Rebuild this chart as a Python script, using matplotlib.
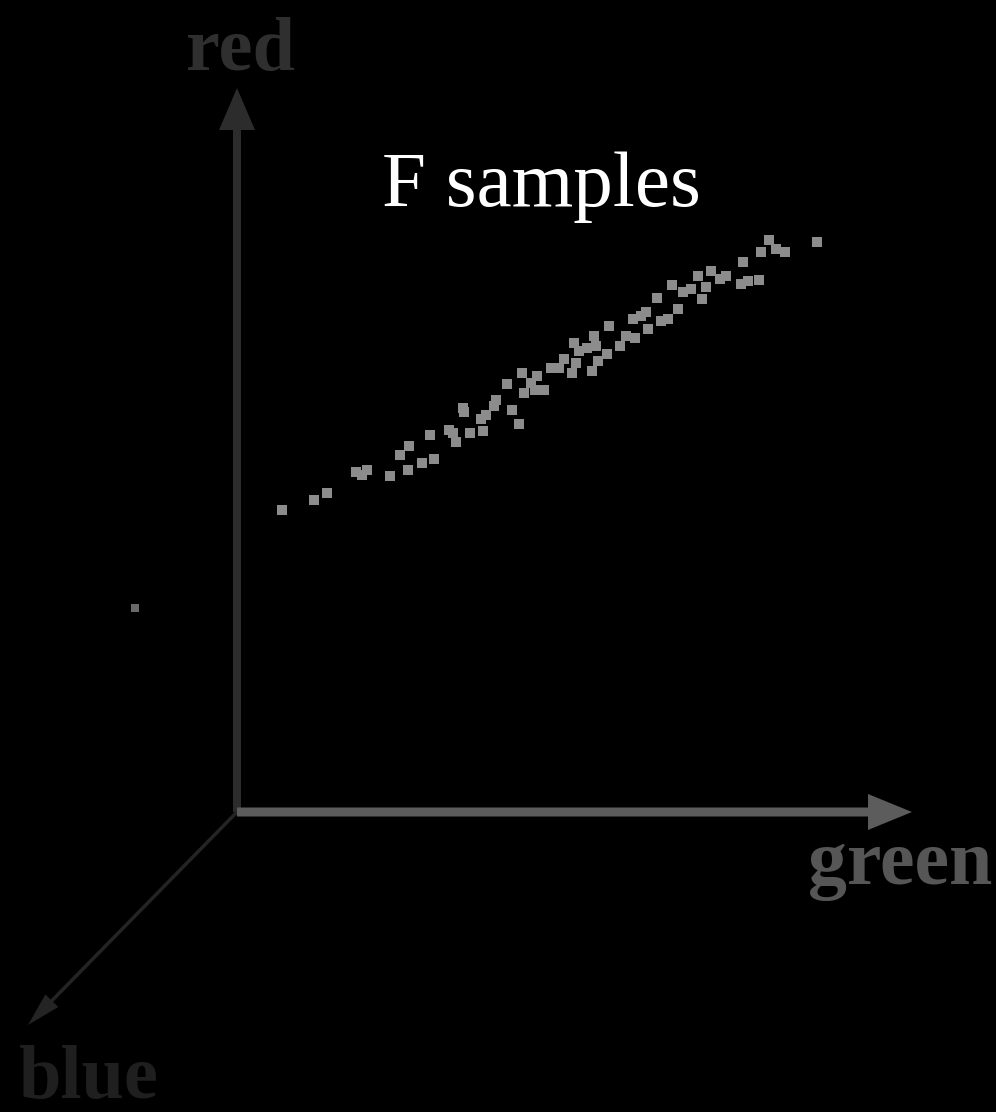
import numpy as np
import matplotlib
matplotlib.use("Agg")
import matplotlib.pyplot as plt

# sample positions (image pixel coords)
green_vals = [282, 313.6, 326.6, 355.5, 367.4, 361.9, 389.7, 400.1, 409, 408.3,
              422, 434.3, 429.5, 449.2, 452.9, 455.9, 470.3, 482.6, 464, 463.3,
              480.7, 486.3, 493.8, 496.3, 511.6, 518.6, 506.8, 521.6, 523.5, 534.6,
              536.5, 543.9, 530.9, 551.3, 558.8, 564.3, 571.8, 573.6, 579.2, 575.5,
              586.6, 594.1, 595.9, 592.2, 597.8, 607.1, 608.9, 620.1, 625.6, 633.1,
              634.9, 640.5, 646.1, 648, 657.2, 661, 668.4, 677.6, 672, 683.2,
              690.6, 698, 701.8, 705.5, 711.1, 720.4, 726, 740.8, 742.7, 748.2,
              759.4, 761.2, 768.6, 776.1, 785.3, 817]
red_vals = [510, 500, 493, 471.5, 469.9, 474.9, 475.5, 455.1, 445.7, 469.9,
            462.5, 458.8, 434.7, 430.3, 433, 442.4, 433, 430.7, 412.2, 408.2,
            418.6, 414.6, 406.2, 399.5, 409.5, 423.6, 384.4, 373.4, 392.8, 389.5,
            376, 390.1, 382.8, 368.3, 367.7, 359.3, 372.7, 342.6, 350.9, 362.6,
            347.6, 335.9, 345.9, 371, 361, 354.3, 325.8, 345.9, 335.9, 319.1,
            337.5, 315.8, 312.4, 329.2, 298, 320.8, 319.1, 309.1, 284.9, 292.3,
            288.9, 275.6, 299, 287.3, 270.5, 278.9, 275.6, 283.9, 262.2, 280.6,
            279.6, 252.1, 240.4, 248.8, 252.1, 242]
outlier_x = [135]
outlier_y = [608]

origin = (237, 812)
red_end = (237, 88)
green_end = (912, 812)
blue_end = (28, 1025)

fig = plt.figure(figsize=(9.96, 11.12), dpi=100, facecolor='black')
ax = fig.add_axes([0, 0, 1, 1])
ax.set_facecolor('black')
ax.set_xlim(0, 996)
ax.set_ylim(1112, 0)
ax.axis('off')

# axes arrows
ax.arrow(origin[0], origin[1], red_end[0]-origin[0], red_end[1]-origin[1],
         width=8, head_width=36, head_length=42, length_includes_head=True,
         color='#2c2c2c', lw=0)
ax.arrow(origin[0], origin[1], blue_end[0]-origin[0], blue_end[1]-origin[1],
         width=3.5, head_width=18, head_length=34, length_includes_head=True,
         color='#242424', lw=0)
ax.arrow(origin[0], origin[1], green_end[0]-origin[0], green_end[1]-origin[1],
         width=9, head_width=36, head_length=44, length_includes_head=True,
         color='#5c5c5c', lw=0)

ax.scatter(green_vals, red_vals, marker='s', s=46, color='#8c8c8c', lw=0)
ax.scatter(outlier_x, outlier_y, marker='s', s=38, color='#6a6a6a', lw=0)

serif = ['Liberation Serif', 'DejaVu Serif']
ax.text(241, 70, 'red', color='#2f2f2f', fontsize=55, fontweight='bold',
        family=serif, ha='center', va='baseline')
ax.text(992, 884, 'green', color='#565656', fontsize=56, fontweight='bold',
        family=serif, ha='right', va='baseline')
ax.text(18, 1098, 'blue', color='#1f1f1f', fontsize=55, fontweight='bold',
        family=serif, ha='left', va='baseline')
ax.text(541, 206, 'F samples', color='white', fontsize=57,
        family=serif, ha='center', va='baseline')

fig.savefig('out.png', dpi=100, facecolor='black')
